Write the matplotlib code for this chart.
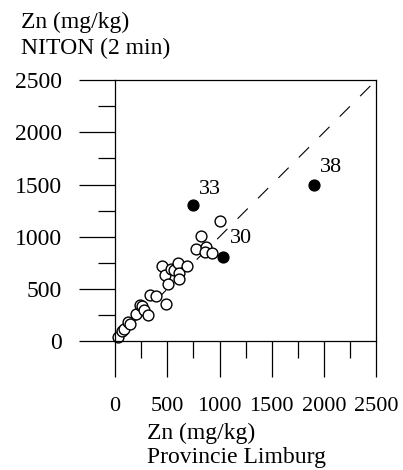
import matplotlib
matplotlib.use("Agg")
import matplotlib.pyplot as plt
import numpy as np

plt.rcParams['font.family'] = ['Liberation Serif', 'DejaVu Serif']

# open circles: Provincie Limburg (x) vs NITON (y)
open_x = [30, 70, 90, 120, 145, 200, 235, 260, 280, 315, 335, 395, 490,
          445, 475, 505, 535, 560, 600, 610, 615, 690, 775, 825, 870, 865, 930, 1000]
open_y = [40, 95, 115, 185, 170, 265, 350, 335, 300, 255, 440, 430, 360,
          725, 630, 550, 695, 680, 750, 655, 600, 725, 885, 1005, 905, 850, 845, 1155]
# outliers (filled)
out_x = [750, 1030, 1900]
out_y = [1300, 810, 1500]
out_labels = ["33", "30", "38"]

xticks = [0, 500, 1000, 1500, 2000, 2500]
yticks = [0, 500, 1000, 1500, 2000, 2500]

fig = plt.figure(figsize=(4.03, 4.70), dpi=100)
ax = fig.add_axes([115/403, (470-341.3)/470, 261.3/403, 261.3/470])

ax.plot([0, 2500], [0, 2500], ls=(0, (13, 13)), color='black', lw=0.8, zorder=1)
ax.plot(open_x, open_y, 'o', ms=7.8, mfc='white', mec='black', mew=1.0, zorder=2, clip_on=False)
ax.plot(out_x, out_y, 'o', ms=7.8, mfc='black', mec='black', zorder=3, clip_on=False)
offs = [(6, 16), (7, 18), (6, 17)]
for x, y, lab, o in zip(out_x, out_y, out_labels, offs):
    ax.annotate(lab, (x, y), xytext=o, textcoords='offset pixels',
                ha='left', va='center', fontsize=16)

ax.set_xlim(0, 2500)
ax.set_ylim(0, 2500)
ax.set_xticks(xticks)
ax.set_yticks(yticks)
ax.set_xticks([250, 750, 1250, 1750, 2250], minor=True)
ax.set_yticks([250, 750, 1250, 1750, 2250], minor=True)
ax.tick_params(axis='both', which='major', direction='out', length=26, width=0.9)
ax.tick_params(axis='both', which='minor', direction='out', length=12.5, width=0.9)
ax.tick_params(axis='y', which='major', labelsize=17, pad=12)
ax.tick_params(axis='x', which='major', labelsize=16, pad=14)
for s in ax.spines.values():
    s.set_linewidth(0.9)

fig.text(21/403, 1-22/470, "Zn (mg/kg)", fontsize=17, ha='left', va='center')
fig.text(21/403, 1-48/470, "NITON (2 min)", fontsize=17, ha='left', va='center')
fig.text(147/403, 1-433/470, "Zn (mg/kg)", fontsize=17, ha='left', va='center')
fig.text(147/403, 1-458/470, "Provincie Limburg", fontsize=17, ha='left', va='center')

fig.savefig("out.png", dpi=100)
